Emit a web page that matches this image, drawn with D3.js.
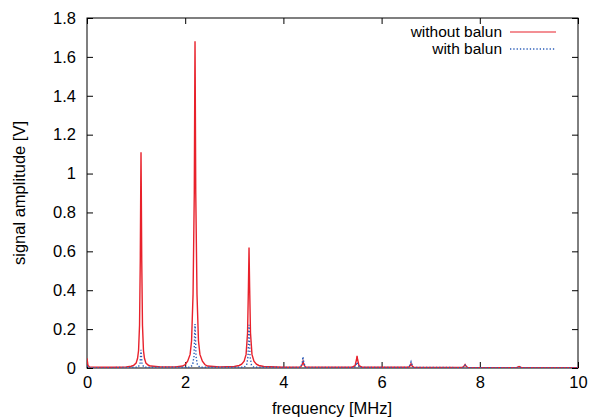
<!DOCTYPE html>
<html><head><meta charset="utf-8">
<script src="https://cdn.jsdelivr.net/npm/d3@7"></script>
<style>body{margin:0;background:#fff}svg{display:block}text{font-family:"Liberation Sans",Arial,sans-serif}</style>
</head><body>
<svg id="c" width="590" height="419"></svg>
<script>
const xTicks = [0, 2, 4, 6, 8, 10];
const yTicks = [0, 0.2, 0.4, 0.6, 0.8, 1, 1.2, 1.4, 1.6, 1.8];
const seriesNames = ["without balun", "with balun"];

// frequency [MHz] samples and amplitudes [V]
const redFreq = [0, 0.02, 0.05, 0.3, 0.6, 0.8, 0.9, 0.95, 1.0, 1.03, 1.05, 1.07, 1.085, 1.095, 1.1, 1.105, 1.115, 1.13, 1.15, 1.17, 1.2, 1.25, 1.3, 1.5, 1.8, 1.95, 2.0, 2.05, 2.1, 2.13, 2.16, 2.185, 2.196, 2.2, 2.204, 2.215, 2.24, 2.27, 2.3, 2.35, 2.4, 2.45, 2.7, 3.0, 3.1, 3.15, 3.2, 3.24, 3.27, 3.288, 3.3, 3.312, 3.33, 3.36, 3.4, 3.45, 3.5, 3.6, 4.0, 4.35, 4.38, 4.4, 4.42, 4.45, 5.4, 5.46, 5.49, 5.5, 5.51, 5.54, 5.6, 6.55, 6.58, 6.6, 6.62, 6.65, 7.65, 7.68, 7.7, 7.72, 7.75, 8.75, 8.8, 8.85, 10];
const redAmp  = [0.05, 0.012, 0.006, 0.004, 0.004, 0.006, 0.009, 0.014, 0.025, 0.05, 0.09, 0.22, 0.55, 0.95, 1.11, 0.95, 0.55, 0.22, 0.09, 0.05, 0.025, 0.014, 0.01, 0.006, 0.006, 0.01, 0.018, 0.035, 0.07, 0.14, 0.38, 0.9, 1.5, 1.68, 1.5, 0.9, 0.38, 0.14, 0.07, 0.035, 0.018, 0.01, 0.006, 0.008, 0.013, 0.02, 0.035, 0.07, 0.18, 0.42, 0.62, 0.42, 0.18, 0.07, 0.035, 0.02, 0.013, 0.008, 0.004, 0.005, 0.016, 0.034, 0.016, 0.005, 0.004, 0.012, 0.045, 0.062, 0.045, 0.012, 0.004, 0.004, 0.011, 0.022, 0.011, 0.004, 0.003, 0.01, 0.018, 0.01, 0.003, 0.002, 0.008, 0.002, 0.002];

const blueFreq = [0, 0.03, 0.5, 1.04, 1.08, 1.093, 1.1, 1.107, 1.12, 1.16, 2.1, 2.15, 2.18, 2.193, 2.2, 2.207, 2.22, 2.25, 2.3, 3.2, 3.25, 3.28, 3.293, 3.3, 3.307, 3.32, 3.35, 3.4, 4.35, 4.385, 4.4, 4.415, 4.45, 5.45, 5.485, 5.5, 5.515, 5.55, 6.55, 6.585, 6.6, 6.615, 6.65, 7.65, 7.685, 7.7, 7.715, 7.75, 8.75, 8.8, 8.85, 10];
const blueAmp  = [0.012, 0.002, 0.002, 0.004, 0.02, 0.07, 0.093, 0.07, 0.02, 0.004, 0.004, 0.015, 0.06, 0.18, 0.226, 0.18, 0.06, 0.015, 0.004, 0.004, 0.015, 0.06, 0.17, 0.222, 0.17, 0.06, 0.015, 0.004, 0.003, 0.03, 0.058, 0.03, 0.003, 0.003, 0.018, 0.03, 0.018, 0.003, 0.003, 0.02, 0.032, 0.02, 0.003, 0.002, 0.009, 0.014, 0.009, 0.002, 0.002, 0.004, 0.002, 0.002];

const red = redFreq.map((f, i) => [f, redAmp[i]]);
const blue = blueFreq.map((f, i) => [f, blueAmp[i]]);

const svg = d3.select("#c");
const L = 87, R = 578, T = 18, B = 368;
const x = d3.scaleLinear().domain([0, 10]).range([L, R]);
const y = d3.scaleLinear().domain([0, 1.8]).range([B, T]);
const fs = 16.5;
const lfs = 15.5;

// axes with inward ticks (gnuplot style)
const ax = svg.append("g");
ax.append("g").attr("transform", `translate(0,${B})`)
  .call(d3.axisBottom(x).tickValues(xTicks).tickSize(-6).tickPadding(8).tickFormat(d3.format("d")));
ax.append("g").attr("transform", `translate(0,${T})`)
  .call(d3.axisTop(x).tickValues(xTicks).tickSize(-6).tickFormat(""));
ax.append("g").attr("transform", `translate(${L},0)`)
  .call(d3.axisLeft(y).tickValues(yTicks).tickSize(-6).tickPadding(11).tickFormat(d => d3.format("")(d)));
ax.append("g").attr("transform", `translate(${R},0)`)
  .call(d3.axisRight(y).tickValues(yTicks).tickSize(-6).tickFormat(""));
ax.selectAll(".domain").remove();
ax.selectAll(".tick line").attr("stroke", "#000").attr("stroke-width", 1);
ax.selectAll(".tick text").attr("font-size", fs).attr("fill", "#000")
  .attr("font-family", "'Liberation Sans', Arial, sans-serif");

// frame
svg.append("rect").attr("x", L).attr("y", T).attr("width", R - L).attr("height", B - T)
  .attr("fill", "none").attr("stroke", "#000").attr("stroke-width", 1);

const line = d3.line().x(d => x(d[0])).y(d => y(d[1]));
svg.append("clipPath").attr("id", "pc").append("rect")
  .attr("x", L).attr("y", T).attr("width", R - L).attr("height", B - T);

svg.append("path").datum(red).attr("d", line).attr("fill", "none")
  .attr("stroke", "#e8212b").attr("stroke-width", 1.4).attr("clip-path", "url(#pc)");
svg.append("path").datum(blue).attr("d", line).attr("fill", "none")
  .attr("stroke", "#2a5cb8").attr("stroke-width", 1.4).attr("stroke-dasharray", "1.3,2")
  .attr("clip-path", "url(#pc)");

// legend
const leg = svg.append("g");
const legY = [32, 49];
const legCol = ["#e8212b", "#2a5cb8"];
seriesNames.forEach((n, i) => {
  leg.append("text").attr("x", 502).attr("y", legY[i]).attr("dy", "0.35em")
    .attr("text-anchor", "end").attr("font-size", lfs).attr("fill", "#000").text(n);
  leg.append("line").attr("x1", 510).attr("x2", 556).attr("y1", legY[i]).attr("y2", legY[i])
    .attr("stroke", legCol[i]).attr("stroke-width", i ? 1.3 : 1.2)
    .attr("stroke-dasharray", i ? "1.3,2" : null);
});

// axis titles
svg.append("text").attr("x", 332).attr("y", 414).attr("text-anchor", "middle")
  .attr("font-size", fs).attr("fill", "#000").text("frequency [MHz]");
svg.append("text").attr("transform", `translate(25,${(T + B) / 2}) rotate(-90)`)
  .attr("text-anchor", "middle").attr("font-size", fs).attr("fill", "#000").text("signal amplitude [V]");
</script>
</body></html>
